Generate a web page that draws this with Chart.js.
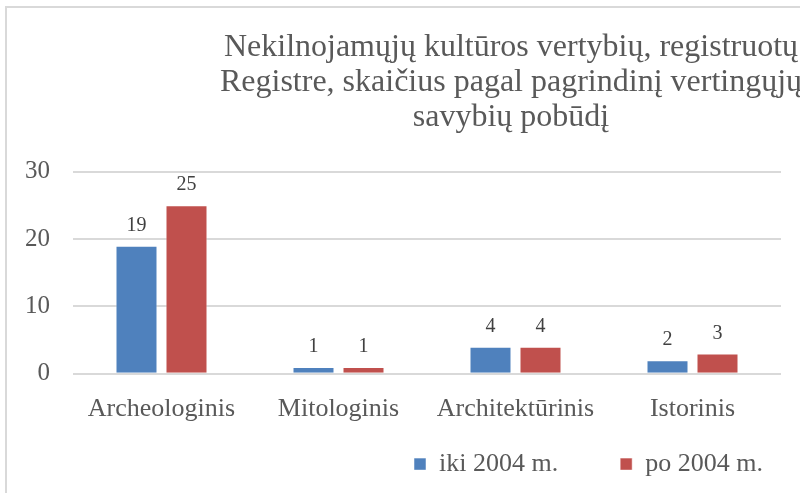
<!DOCTYPE html>
<html lang="lt">
<head>
    <meta charset="UTF-8">
    <title>Nekilnojamųjų kultūros vertybių skaičius</title>
    <script src="https://cdn.jsdelivr.net/npm/chart.js"></script>
    <style>
        html, body { margin: 0; padding: 0; background: #fff; overflow: hidden; }
        #wrap { position: relative; width: 800px; height: 493px; overflow: hidden; }
    </style>
</head>
<body>
    <div id="wrap"><canvas id="valueChart" width="800" height="520"></canvas></div>
    <script>
        const categories = ['Archeologinis', 'Mitologinis', 'Architektūrinis', 'Istorinis'];
        const ikiValues = [19, 1, 4, 2];
        const poValues = [25, 1, 4, 3];
        const seriesNames = ['iki 2004 m.', 'po 2004 m.'];
        const titleLines = [
            'Nekilnojamųjų kultūros vertybių, registruotų',
            'Registre, skaičius pagal pagrindinį vertingųjų',
            'savybių pobūdį'
        ];

        const serif = "'Liberation Serif', 'Times New Roman', serif";
        const textGray = '#595959';

        // frame, value labels and placement of title/legend
        const chartExtras = {
            id: 'chartExtras',
            afterLayout(chart) {
                const t = chart.titleBlock;
                t.left = 511 - 340; t.right = 511 + 340; t.width = 680;
                const lg = chart.legend;
                lg.left = 652 - 300; lg.right = 652 + 300; lg.width = 600;
                lg.top = 363; lg.bottom = lg.top + lg.height;
            },
            beforeDraw(chart) {
                const c = chart.ctx;
                c.save();
                c.strokeStyle = '#d9d9d9';
                c.lineWidth = 2;
                c.beginPath();
                c.moveTo(6, 900);
                c.lineTo(6, 7);
                c.lineTo(900, 7);
                c.stroke();
                c.restore();
            },
            afterDatasetsDraw(chart) {
                const c = chart.ctx;
                c.save();
                c.font = '20px ' + serif;
                c.fillStyle = '#404040';
                c.textAlign = 'center';
                c.textBaseline = 'alphabetic';
                chart.data.datasets.forEach((ds, i) => {
                    chart.getDatasetMeta(i).data.forEach((bar, j) => {
                        c.fillText(String(ds.data[j]), bar.x, bar.y - 15);
                    });
                });
                c.restore();
            }
        };

        const ctx = document.getElementById('valueChart').getContext('2d');
        const chart = new Chart(ctx, {
            type: 'bar',
            data: {
                labels: categories,
                datasets: [{
                    label: seriesNames[0],
                    data: ikiValues,
                    backgroundColor: '#4F81BD',
                    borderColor: 'rgba(255,255,255,0.5)',
                    borderWidth: 1
                }, {
                    label: seriesNames[1],
                    data: poValues,
                    backgroundColor: '#C0504D',
                    borderColor: 'rgba(255,255,255,0.5)',
                    borderWidth: 1
                }]
            },
            options: {
                responsive: false,
                animation: false,
                devicePixelRatio: 1,
                categoryPercentage: 0.565,
                barPercentage: 0.84,
                layout: { padding: { top: 8, left: 2, right: 19, bottom: 83 } },
                plugins: {
                    title: {
                        display: true,
                        text: titleLines,
                        color: textGray,
                        font: { family: serif, size: 32, weight: 'normal', lineHeight: 1.1 },
                        padding: { top: 22, bottom: 36 }
                    },
                    legend: {
                        position: 'chartArea',
                        align: 'center',
                        labels: {
                            boxWidth: 12,
                            boxHeight: 12,
                            padding: 62,
                            color: textGray,
                            font: { family: serif, size: 26 }
                        }
                    },
                    tooltip: { enabled: false }
                },
                scales: {
                    x: {
                        grid: { display: false },
                        border: { display: false },
                        ticks: {
                            color: textGray,
                            padding: 12,
                            font: { family: serif, size: 26 }
                        }
                    },
                    y: {
                        min: 0,
                        max: 30,
                        grid: { color: '#d9d9d9', lineWidth: 2, drawTicks: false },
                        border: { display: false },
                        ticks: {
                            stepSize: 10,
                            color: textGray,
                            padding: 23,
                            font: { family: serif, size: 25 }
                        }
                    }
                }
            },
            plugins: [chartExtras]
        });
    </script>
</body>
</html>
